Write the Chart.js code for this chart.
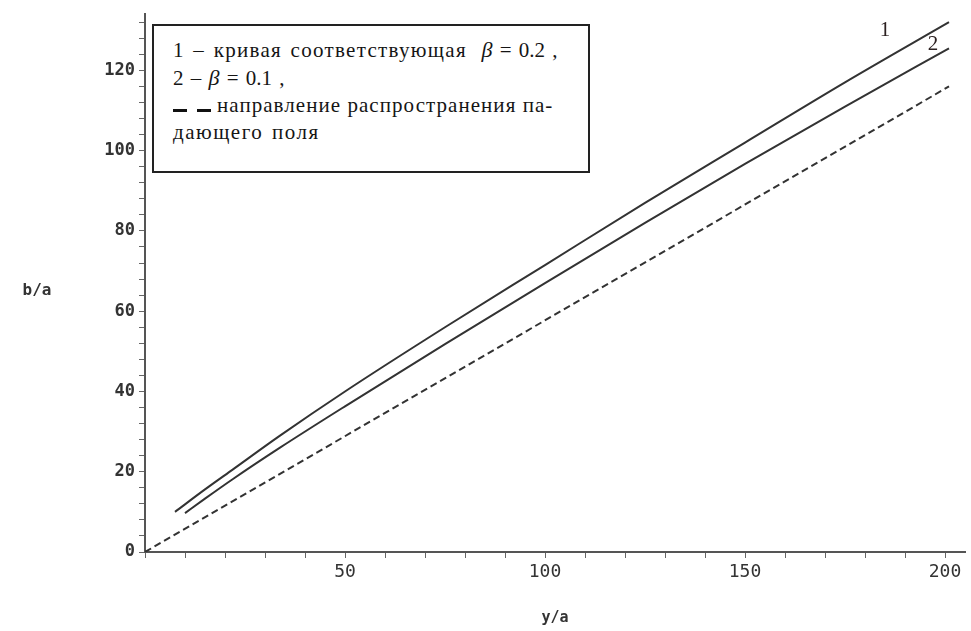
<!DOCTYPE html>
<html>
<head>
<meta charset="utf-8">
<script src="https://cdn.jsdelivr.net/npm/chart.js@4.4.0/dist/chart.umd.min.js"></script>
<style>
    body { margin: 0; background: #fff; }
    #wrap { position: relative; width: 971px; height: 631px; }
    #note {
        position: absolute; left: 152px; top: 24px; width: 438px; height: 149px;
        box-sizing: border-box; border: 2px solid #222; background: #fff;
        font-family: "Liberation Serif", serif; font-size: 21px; line-height: 27px;
        color: #151515; padding: 10px 0 0 19px; white-space: nowrap; word-spacing: 2px;
    }
    #note i { font-size: 22px; }
    .bar { display: inline-block; width: 14px; height: 3px; background: #111; margin-right: 10px; vertical-align: baseline; }
</style>
</head>
<body>
<div id="wrap">
    <canvas id="root" width="971" height="631"></canvas>
    <div id="note">
        <span style="letter-spacing:1.3px">1 – кривая соответствующая</span>&nbsp; <i>β</i> = 0.2 ,<br>
        2 – <i>β</i> = 0.1 ,<br>
        <span class="bar"></span><span class="bar" style="margin-right:6px"></span><span style="letter-spacing:1.05px;word-spacing:0">направление распространения па-</span><br>
        <span style="letter-spacing:1.5px">дающего поля</span>
    </div>
</div>
<script>
// curve 1 (beta = 0.2)
const x1 = [7.5, 15, 22, 33.75, 50, 75, 100, 125, 150, 175, 201]
const y1 = [10, 15.6, 20.6, 29, 40, 56, 71.5, 87, 102, 117, 132]

// curve 2 (beta = 0.1)
const x2 = [10, 15, 22, 33.75, 50, 75, 100, 125, 150, 175, 201]
const y2 = [9.7, 13.3, 18.2, 26, 36.3, 51.8, 67, 82, 96.7, 111, 125.5]

// incident field direction
const xd = [0, 201]
const yd = [0, 116]

const curveLabels = ['1', '2']
const curveLabelAt = [[185, 130], [197, 126.5]]

const toPoints = (xs, ys) => xs.map((x, i) => ({ x: x, y: ys[i] }))

const textPlugin = {
    id: 'extraText',
    afterDraw(chart) {
        const ctx = chart.ctx
        const xs = chart.scales.x
        const ys = chart.scales.y
        ctx.save()
        ctx.fillStyle = '#2b2020'
        ctx.font = '21px "Liberation Serif", serif'
        ctx.textAlign = 'center'
        ctx.textBaseline = 'middle'
        curveLabels.forEach((t, i) => {
            ctx.fillText(t, xs.getPixelForValue(curveLabelAt[i][0]), ys.getPixelForValue(curveLabelAt[i][1]))
        })
        // horizontal y-axis title
        ctx.fillStyle = '#333'
        ctx.font = 'bold 16px "DejaVu Sans Mono", monospace'
        ctx.fillText('b/a', 37, ys.getPixelForValue(65))
        ctx.restore()
    }
}

let ctx = document.getElementById('root').getContext('2d')

let config = {
    type: 'scatter',
    data: {
        datasets: [
            {
                data: toPoints(x1, y1),
                showLine: true,
                borderColor: '#333',
                borderWidth: 2,
                pointRadius: 0,
                cubicInterpolationMode: 'monotone'
            },
            {
                data: toPoints(x2, y2),
                showLine: true,
                borderColor: '#333',
                borderWidth: 2,
                pointRadius: 0,
                cubicInterpolationMode: 'monotone'
            },
            {
                data: toPoints(xd, yd),
                showLine: true,
                borderColor: '#333',
                borderWidth: 2,
                borderDash: [7, 4],
                pointRadius: 0
            }
        ]
    },
    options: {
        responsive: false,
        animation: false,
        layout: { padding: { left: 0, right: 6, top: 12, bottom: 0 } },
        plugins: {
            legend: { display: false },
            tooltip: { enabled: false }
        },
        scales: {
            x: {
                type: 'linear',
                min: 0,
                max: 205,
                afterFit: s => { s.height = 79 },
                border: { color: '#555', width: 2 },
                grid: { drawOnChartArea: false, tickLength: 6, color: '#666' },
                ticks: {
                    stepSize: 10,
                    includeBounds: false,
                    autoSkip: false,
                    maxRotation: 0,
                    color: '#333',
                    padding: 4,
                    font: { family: 'DejaVu Sans Mono', size: 18 },
                    callback: v => (v % 50 === 0 && v !== 0) ? v : ''
                },
                title: {
                    display: true,
                    text: 'y/a',
                    color: '#333',
                    padding: { top: 4, bottom: 4 },
                    font: { family: 'DejaVu Sans Mono', size: 15, weight: 'bold' }
                }
            },
            y: {
                type: 'linear',
                min: 0,
                max: 134,
                afterFit: s => { s.width = 145 },
                border: { color: '#555', width: 2 },
                grid: { drawOnChartArea: false, tickLength: 6, color: '#666' },
                ticks: {
                    stepSize: 4,
                    includeBounds: false,
                    autoSkip: false,
                    color: '#333',
                    padding: 4,
                    font: { family: 'DejaVu Sans Mono', size: 17, weight: 'bold' },
                    callback: v => v % 20 === 0 ? v : ''
                }
            }
        }
    },
    plugins: [textPlugin]
}

let myChart = new Chart(ctx, config)
</script>
</body>
</html>
